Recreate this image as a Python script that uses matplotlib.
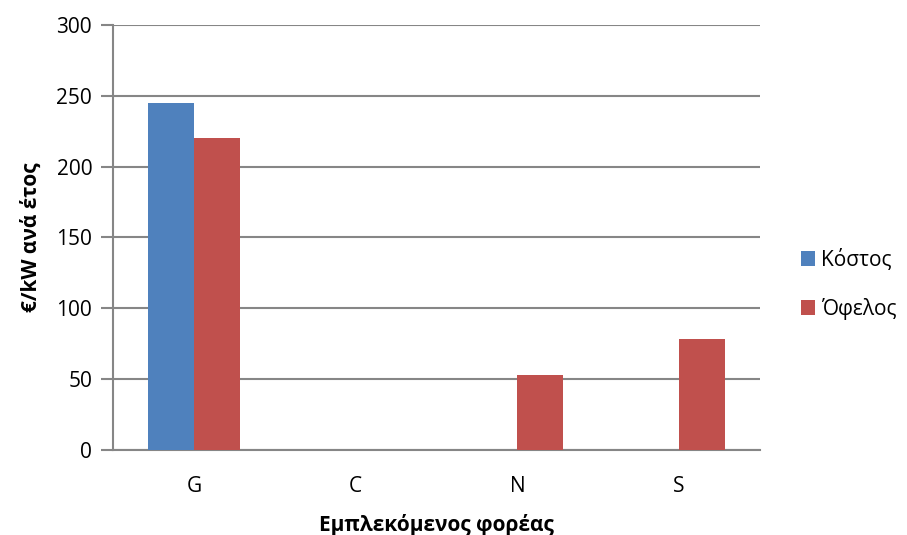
import numpy as np
import matplotlib.pyplot as plt

plt.rcParams['font.family'] = ['Open Sans', 'DejaVu Sans']

categories = ['G', 'C', 'N', 'S']
cost = [245, 0, 0, 0]
benefit = [220, 0, 53, 78]
series_names = ['Κόστος', 'Όφελος']

blue = '#4f81bd'
red = '#c0504d'
grey = '#868686'

fig = plt.figure(figsize=(9.07, 5.35), dpi=100)
ax = fig.add_axes([0.1246, 0.1589, 0.7134, 0.7944])

x = np.arange(len(categories))
w = 0.284
ax.bar(x - w / 2, cost, w, color=blue, label=series_names[0], zorder=3)
ax.bar(x + w / 2, benefit, w, color=red, label=series_names[1], zorder=3)

ax.set_xlim(-0.5, 3.5)
ax.set_ylim(0, 300)
ax.set_yticks(range(0, 301, 50))
ax.set_xticks(x)
ax.set_xticklabels(categories)
ax.yaxis.grid(True, color=grey, linewidth=1.5, zorder=0)
ax.set_axisbelow(True)

for s in ['top', 'right']:
    ax.spines[s].set_visible(False)
for s in ['left', 'bottom']:
    ax.spines[s].set_color(grey)
    ax.spines[s].set_linewidth(1.5)

ax.tick_params(axis='y', length=9, width=1.5, color=grey, labelsize=15, pad=6)
ax.tick_params(axis='x', length=0, labelsize=15, pad=19)

ax.set_ylabel('€/kW ανά έτος', fontsize=15, fontweight='bold', labelpad=10)
ax.set_xlabel('Εμπλεκόμενος φορέας', fontsize=15, fontweight='bold', labelpad=12)

ax.legend(loc='center left', bbox_to_anchor=(0.883, 0.469),
          bbox_transform=fig.transFigure, frameon=False,
          fontsize=15, handlelength=0.7, handleheight=0.7,
          handletextpad=0.25, labelspacing=1.3, borderpad=0, borderaxespad=0)

fig.savefig('out.png', dpi=100)
